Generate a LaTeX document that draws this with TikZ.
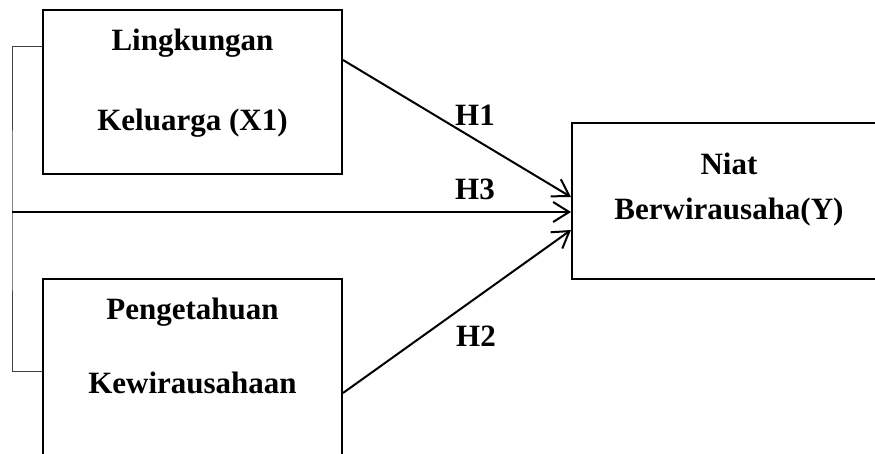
\documentclass[tikz,border=0pt]{standalone}
\usepackage{fontspec}
\setmainfont{Liberation Serif}
\usetikzlibrary{arrows.meta,shapes}

\begin{document}
\begin{tikzpicture}[x=1pt,y=-1pt]
                \tikzstyle{box}=[draw,line width=2pt,minimum width=299pt,inner sep=0pt]
                \tikzstyle{txt}=[font=\fontsize{31}{37}\selectfont\bfseries,inner sep=0pt,anchor=base]
                \tikzstyle{hyp}=[line width=2pt,-{Straight Barb[length=16pt,width=20pt,line width=2pt]}]
                \tikzstyle{bracket}=[line width=1pt,black!75]
                
                \useasboundingbox (0,0) rectangle (875,453);
                \clip (0,0) rectangle (875,453);
                
                \node[box,minimum height=164pt] (lk) at (192.5,92) {};
                \node[box,minimum height=200pt] (pk) at (192.5,379) {};
                \node[box,minimum width=318pt,minimum height=156pt] (niat) at (731,201) {};
                
                \coordinate (fork) at (12,212);
                
                \node[txt] (lk1) at (192.5,50) {Lingkungan};
                \node[txt] (lk2) at (192.5,130) {Keluarga (X1)};
                \node[txt] (pk1) at (192.5,319) {Pengetahuan};
                \node[txt] (pk2) at (192.5,393) {Kewirausahaan};
                \node[txt] (niat1) at (729,174) {Niat};
                \node[txt] (niat2) at (729,219) {Berwirausaha(Y)};
                
                \draw[bracket] ([yshift=46pt]lk.west) -| (fork) |- ([yshift=8pt]pk.west);
                
                \draw[hyp] ([yshift=32pt]lk.east) -- ([yshift=4pt]niat.west);
                \draw[hyp] (fork) -- ([yshift=-11pt]niat.west);
                \draw[hyp] ([yshift=-14pt]pk.east) -- ([yshift=-29pt]niat.west);
                
                \node[txt] (h1) at (475,125) {H1};
                \node[txt] (h3) at (475,199) {H3};
                \node[txt] (h2) at (476,346) {H2};
                
\end{tikzpicture}
\end{document}
